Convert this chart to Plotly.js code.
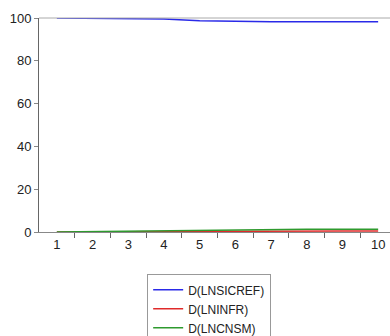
<!DOCTYPE html>
<html><head><meta charset="utf-8">
<script src="https://cdn.plot.ly/plotly-3.0.1.min.js"></script>
<style>html,body{margin:0;padding:0;overflow:hidden;width:390px;height:336px;background:#fff}</style>
</head><body><div id="c"></div>
<script>
var periods = [1,2,3,4,5,6,7,8,9,10];
var lnsicref = [100, 99.8, 99.6, 99.5, 98.7, 98.4, 98.3, 98.3, 98.3, 98.2];
var lninfr = [0, 0.1, 0.2, 0.2, 0.4, 0.5, 0.5, 0.5, 0.5, 0.5];
var lncnsm = [0, 0.2, 0.3, 0.4, 0.9, 1.1, 1.3, 1.3, 1.3, 1.3];
var names = ['D(LNSICREF)', 'D(LNINFR)', 'D(LNCNSM)'];
var minorTicks = [1.5,2.5,3.5,4.5,5.5,6.5,7.5,8.5,9.5];

var traces = [
  {x: periods, y: lnsicref, name: names[0], mode:'lines', line:{color:'#2a2ae8', width:1.5}},
  {x: periods, y: lninfr, name: names[1], mode:'lines', line:{color:'#e02a2a', width:1.5}},
  {x: periods, y: lncnsm, name: names[2], mode:'lines', line:{color:'#2e9a2e', width:1.5}}
];
var layout = {
  width: 396, height: 345,
  margin: {l:39, r:0, t:18, b:113},
  paper_bgcolor:'#fff', plot_bgcolor:'#fff',
  font: {family:'Liberation Sans, Arial, sans-serif', size:12, color:'#222'},
  showlegend: true,
  legend: {x:0.303, y:-0.198, xanchor:'left', yanchor:'top', bordercolor:'#999', borderwidth:1,
           font:{size:12, color:'#222'}, tracegroupgap:0, itemwidth:30, entrywidth:128},
  shapes: [{type:'line', xref:'paper', yref:'paper', x0:0, x1:1, y0:1, y1:1, line:{color:'#aaa', width:1}}],
  xaxis: {range:[0.5,10.5], tickvals:periods, ticks:'', showgrid:false, zeroline:false,
          showline:true, linecolor:'#888', linewidth:1,
          tickfont:{size:13},
          minor:{tickvals:minorTicks, ticks:'outside', ticklen:5, tickcolor:'#666', showgrid:false},
          fixedrange:true},
  yaxis: {range:[0,100], tickvals:[0,20,40,60,80,100], ticks:'outside', ticklen:4, tickcolor:'#888',
          tickfont:{size:13},
          showgrid:false, zeroline:false, showline:true, linecolor:'#666', linewidth:1, fixedrange:true}
};
Plotly.newPlot('c', traces, layout, {displayModeBar:false, staticPlot:true});
</script></body></html>
